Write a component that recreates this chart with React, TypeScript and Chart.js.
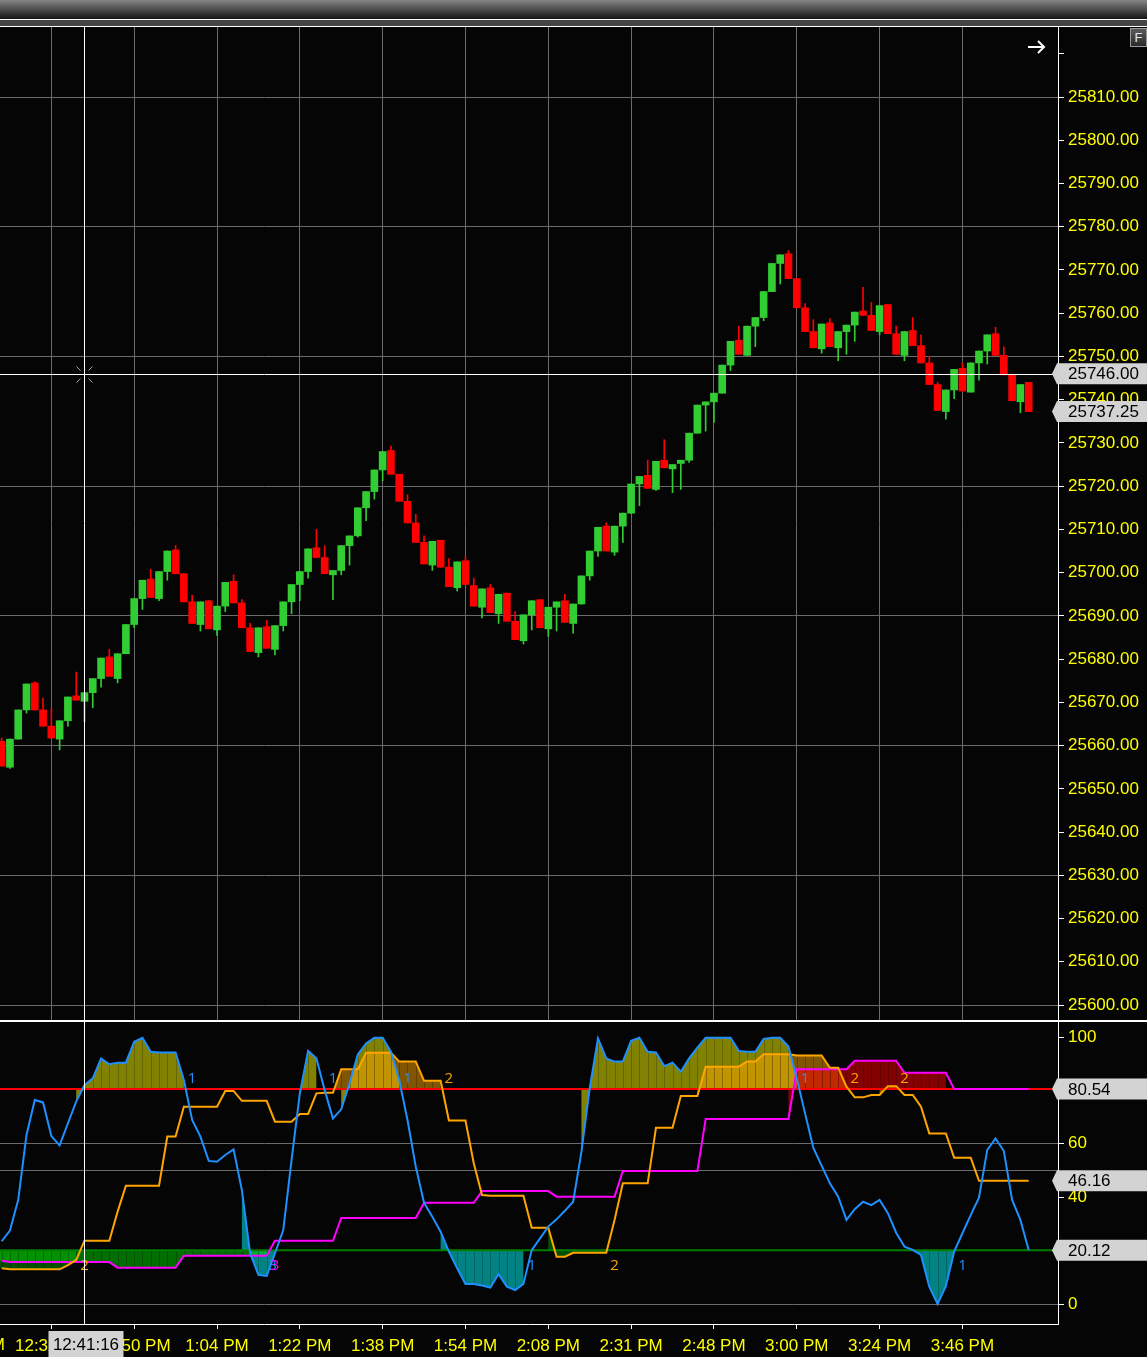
import React, { useEffect, useRef } from 'react';
import { Chart, registerables } from 'chart.js';

Chart.register(...registerables);

const FONT = 'Arial, "Liberation Sans", sans-serif';
const MARK_FONT = '"Open Sans", "DejaVu Sans", sans-serif';

// ---------- Price candles (bar index 0..124) ----------
const OPEN = [
  25661, 25655, 25661.5, 25668.25, 25674.5, 25668.25, 25664.5, 25661.5, 25665.75, 25671.5,
  25670.25, 25672.25, 25675.5, 25680.5, 25675.5, 25681.25, 25688, 25694, 25698.5, 25694,
  25700.25, 25705.25, 25699.75, 25693.25, 25688, 25693.5, 25686.75, 25692.25, 25698, 25693,
  25687.25, 25681.5, 25687.5, 25682.25, 25687.75, 25693.25, 25697.25, 25700.25, 25705.75, 25703.5,
  25699.5, 25700.5, 25706.25, 25708.5, 25715, 25718.75, 25723.75, 25728.25, 25722.75, 25716.5,
  25711.5, 25707, 25701.75, 25707.5, 25701.25, 25696.5, 25702.75, 25697, 25692, 25696.5,
  25690.5, 25695.25, 25688.75, 25684.25, 25690.25, 25693.75, 25687, 25692, 25693.5, 25688.25,
  25692.75, 25699.25, 25705, 25710.75, 25704.75, 25710.75, 25713.75, 25720.5, 25722.5, 25719.25,
  25726, 25724, 25725.25, 25726, 25732.25, 25738.75, 25739.5, 25741.5, 25748, 25753.75,
  25750.25, 25757, 25759, 25765, 25771.5, 25773.75, 25768, 25761.25, 25755.75, 25751.75,
  25757.75, 25752, 25755.75, 25757.25, 25760.5, 25759.5, 25755.75, 25762, 25755.25, 25750.25,
  25756, 25752.5, 25748.5, 25743.5, 25737.25, 25742.25, 25747.25, 25741.75, 25748.5, 25751.25,
  25755.25, 25750.25, 25745.75, 25739.5, 25744,
];
const HIGH = [
  25661.75, 25661.5, 25668.25, 25674.25, 25674.75, 25671, 25668.5, 25665.75, 25671.25, 25677,
  25672.25, 25675.5, 25680.25, 25682.25, 25681.25, 25688, 25694, 25698.25, 25700.75, 25700.25,
  25705, 25706.25, 25699.75, 25694.75, 25693.25, 25693.5, 25692.25, 25697.75, 25699.5, 25693.75,
  25688.25, 25687.25, 25689, 25687.75, 25693.25, 25697.25, 25700.25, 25705.5, 25710, 25706.25,
  25700.5, 25706.25, 25708.5, 25715, 25718.75, 25723.75, 25728, 25729.25, 25722.75, 25718,
  25713.5, 25708.5, 25707.25, 25707.5, 25703.25, 25702.5, 25703.75, 25698.75, 25696.25, 25697.25,
  25695, 25695.25, 25691, 25690.25, 25693.5, 25693.75, 25692, 25693.25, 25695, 25692.75,
  25699.25, 25705, 25710.5, 25711.5, 25710.75, 25713.75, 25720.5, 25722.25, 25726, 25725.75,
  25730.75, 25725, 25726, 25732.25, 25738.75, 25739.5, 25741.5, 25748, 25753.5, 25757,
  25757, 25759, 25765, 25771.5, 25773.5, 25774.5, 25768, 25762.25, 25758.5, 25757.5,
  25758.75, 25755.75, 25757.25, 25760.25, 25766, 25762.5, 25761.75, 25762, 25757, 25755.75,
  25759, 25755, 25750, 25744, 25742.25, 25747, 25748.5, 25748.5, 25751.25, 25755,
  25756.75, 25752.25, 25745.75, 25743.5, 25744,
];
const LOW = [
  25655.25, 25654.75, 25661.5, 25667.5, 25668.25, 25664.5, 25661.75, 25659, 25664.5, 25670.5,
  25665.5, 25668.75, 25673.5, 25676, 25674.5, 25681.25, 25687.25, 25691.5, 25694.25, 25693.5,
  25698.25, 25699.75, 25693.25, 25688.25, 25686.5, 25687, 25685.5, 25691, 25693, 25687.25,
  25681.75, 25680.5, 25682.5, 25681, 25686.5, 25690.5, 25693.5, 25698.75, 25703.5, 25699.75,
  25693.75, 25699.5, 25701.75, 25708.25, 25712, 25717, 25721.25, 25722.75, 25716.5, 25711.5,
  25707, 25702, 25700.5, 25701.25, 25696.75, 25695.75, 25697.25, 25692.25, 25689.5, 25690.75,
  25688.25, 25688.75, 25684.5, 25683.5, 25686.75, 25687.25, 25685.25, 25686.5, 25688.5, 25686,
  25692.75, 25698.25, 25703.75, 25705, 25704, 25707, 25713.75, 25715.5, 25719.5, 25719,
  25724.25, 25718.5, 25719.25, 25725.5, 25732.25, 25732.75, 25734.75, 25741.5, 25746.75, 25750.5,
  25750.25, 25752.25, 25758.25, 25765, 25766.75, 25768, 25761.25, 25755.75, 25752, 25750.75,
  25752.25, 25749, 25750.5, 25753.5, 25759.5, 25756, 25755, 25755.25, 25750.5, 25749,
  25752.5, 25748.5, 25743.5, 25737.5, 25735.5, 25740.25, 25742, 25741.75, 25744.5, 25748.25,
  25750.25, 25745.75, 25739.75, 25737, 25737.25,
];
const CLOSE = [
  25655.25, 25661.5, 25668.25, 25674.25, 25668.25, 25664.5, 25661.75, 25665.75, 25671.25, 25670.5,
  25672.25, 25675.5, 25680.25, 25676, 25681.25, 25688, 25694, 25698.25, 25694.25, 25700.25,
  25705, 25699.75, 25693.25, 25688.25, 25693.25, 25687, 25692.25, 25697.75, 25693, 25687.25,
  25681.75, 25687.25, 25682.5, 25687.75, 25693.25, 25697.25, 25700.25, 25705.5, 25703.5, 25699.75,
  25700.5, 25706.25, 25708.5, 25715, 25718.75, 25723.75, 25728, 25722.75, 25716.5, 25711.5,
  25707, 25702, 25707.25, 25701.25, 25696.75, 25702.5, 25697.25, 25692.25, 25696.25, 25690.75,
  25695, 25688.75, 25684.5, 25690.25, 25693.5, 25687.25, 25692, 25693.25, 25688.5, 25692.75,
  25699.25, 25705, 25710.5, 25705, 25710.75, 25713.75, 25720.5, 25722.25, 25719.5, 25725.75,
  25724.25, 25725, 25726, 25732.25, 25738.75, 25739.5, 25741.5, 25748, 25753.5, 25750.5,
  25757, 25759, 25765, 25771.5, 25773.5, 25768, 25761.25, 25755.75, 25752, 25757.5,
  25752.25, 25755.75, 25757.25, 25760.25, 25759.5, 25756, 25761.75, 25755.25, 25750.5, 25755.75,
  25752.5, 25748.5, 25743.5, 25737.5, 25742.25, 25747, 25742, 25748.5, 25751.25, 25755,
  25750.25, 25745.75, 25739.75, 25743.5, 25737.25,
];

// ---------- Oscillator pane ----------
const BLUE_VALUES = [
  23.5, 27.5, 39, 63.3, 76.4, 75.5, 62.9, 59.4, 67.7, 75.8,
  82, 84.5, 91.9, 89.8, 90.4, 90.4, 98.2, 99.7, 94.5, 94.2,
  94.2, 94.2, 83.9, 68.9, 62.7, 53.6, 53.3, 55.8, 57.9, 42.7,
  19, 10.9, 10.5, 19, 27.7, 53.9, 78.9, 94.8, 92, 80.1,
  69.5, 72.9, 82.7, 93.5, 97.6, 99.7, 99.7, 94.5, 83.9, 68.9,
  51.4, 37.9, 32.7, 27.1, 19.6, 13.4, 7.5, 7.5, 6.9, 6.1,
  11.2, 6.5, 5.2, 7.5, 20.2, 24.6, 29, 31.7, 34.9, 38.3,
  57, 80.8, 99.5, 92, 90.8, 90.8, 98.6, 99.7, 94.5, 94.2,
  89.1, 90.4, 87, 92, 96, 99.7, 99.7, 99.7, 99.7, 94.8,
  94.5, 94.5, 99.3, 99.7, 99.7, 96.4, 84.5, 71.4, 58.5, 51.8,
  45.2, 40.2, 31.5, 35.5, 38.3, 37, 39, 34, 26.7, 21.5,
  20.3, 18.4, 6.5, 0, 6.7, 19.6, 26.5, 33.3, 39.8, 57.7,
  62, 57.3, 39, 31.5, 20.2,
];
const ORANGE_VALUES = [
  13.4, 13, 13, 13, 13, 13, 13, 13, 14.6, 16.5,
  23.7, 23.7, 23.7, 23.7, 34.6, 44.3, 44.3, 44.3, 44.3, 44.3,
  62.7, 62.7, 73.9, 73.9, 73.9, 73.9, 73.9, 79.8, 79.8, 76.1,
  76.1, 76.1, 76.1, 68.3, 68.3, 68.3, 71.2, 71.2, 78.9, 79.1,
  79.1, 87.9, 87.9, 87.9, 94.1, 94.1, 94.1, 94.1, 90.8, 90.8,
  90.8, 83.6, 83.6, 83.6, 68.7, 68.7, 68.7, 52.7, 40.8, 40.5,
  40.5, 40.5, 40.5, 40.5, 28.6, 28.6, 28.6, 17.7, 17.7, 19.2,
  19.2, 19.2, 19.2, 19.2, 31.5, 45.2, 45.2, 45.2, 45.2, 66,
  66, 66, 77.9, 77.9, 77.9, 88.9, 88.9, 88.9, 88.9, 88.9,
  90.8, 90.8, 93.5, 93.5, 93.5, 93.5, 93.1, 93.1, 93.1, 93.1,
  88.5, 88.5, 81.4, 77.4, 77.4, 78.3, 78.3, 81.6, 81.6, 78.3,
  78.3, 73.9, 63.9, 63.9, 63.9, 54.8, 54.8, 54.8, 46.16, 46.16,
  46.16, 46.16, 46.16, 46.16, 46.16,
];
const MAGENTA_VALUES = [
  16.2, 15.7, 15.7, 15.7, 15.7, 15.7, 15.7, 15.7, 15.7, 15.7,
  15.7, 15.7, 15.7, 15.7, 13.6, 13.6, 13.6, 13.6, 13.6, 13.6,
  13.6, 13.6, 18.1, 18.1, 18.1, 18.1, 18.1, 18.1, 18.1, 18.1,
  18.1, 18.1, 18.1, 23.7, 23.7, 23.7, 23.7, 23.7, 23.7, 23.7,
  23.7, 32.2, 32.2, 32.2, 32.2, 32.2, 32.2, 32.2, 32.2, 32.2,
  32.2, 37.9, 37.9, 37.9, 37.9, 37.9, 37.9, 37.9, 42.3, 42.3,
  42.3, 42.3, 42.3, 42.3, 42.3, 42.3, 42.3, 40.2, 40.2, 40.2,
  40.2, 40.2, 40.2, 40.2, 40.2, 49.8, 49.8, 49.8, 49.8, 49.8,
  49.8, 49.8, 49.8, 49.8, 49.8, 69.3, 69.3, 69.3, 69.3, 69.3,
  69.3, 69.3, 69.3, 69.3, 69.3, 69.3, 87.9, 87.9, 87.9, 87.9,
  87.9, 87.9, 87.9, 91.1, 91.1, 91.1, 91.1, 91.1, 91.1, 86.6,
  86.6, 86.6, 86.6, 86.6, 86.6, 80.54, 80.54, 80.54, 80.54, 80.54,
  80.54, 80.54, 80.54, 80.54, 80.54,
];
const UPPER_LEVEL = 80.54;
const LOWER_LEVEL = 20.12;
const ORANGE_LAST = 46.16;

// numbered cross markers
const MARKER_INDEX = [10, 23, 32.7, 33, 40, 49, 54, 64, 74, 97, 103, 109, 116];
const MARKER_VALUE = [14.2, 84.3, 14.2, 14.2, 84.3, 84.3, 84.3, 14.2, 14.2, 84.3, 84.3, 84.3, 14.2];
const MARKER_TEXT = ['2', '1', '3', '3', '1', '1', '2', '1', '2', '1', '2', '2', '1'];
const MARKER_SERIES = ['orange', 'blue', 'blue', 'magenta', 'blue', 'blue', 'orange', 'blue', 'orange', 'blue', 'orange', 'orange', 'blue'];

// ---------- Axes ----------
const PRICE_TICKS = [25600, 25610, 25620, 25630, 25640, 25650, 25660, 25670, 25680, 25690, 25700, 25710,
  25720, 25730, 25740, 25750, 25760, 25770, 25780, 25790, 25800, 25810, 25820];
const PRICE_HIDDEN_LABELS = [25820];
const PRICE_GRID = [25600, 25630, 25660, 25690, 25720, 25750, 25780, 25810];
const OSC_TICKS = [0, 40, 50, 60, 100];
const OSC_LABELLED = [0, 40, 60, 100];
const OSC_GRID = [0, 50, 60];
const TIME_TICKS = [6, 16, 26, 36, 46, 56, 66, 76, 86, 96, 106, 116];
const TIME_LABELS = ['12:32 PM', '12:50 PM', '1:04 PM', '1:22 PM', '1:38 PM', '1:54 PM', '2:08 PM',
  '2:31 PM', '2:48 PM', '3:00 PM', '3:24 PM', '3:46 PM'];
const OFF_LEFT_TICK = -4;
const OFF_LEFT_LABEL = '12:23 PM';

const CROSS_INDEX = 10;
const CROSS_PRICE = 25746;
const CROSS_TIME = '12:41:16';

const X_MIN = -0.2;
const X_MAX = 127.54;
const PRICE_MIN = 25596.54;
const PRICE_MAX = 25826.19;
const OSC_MIN = -7.49;
const OSC_MAX = 105.62;

const C = {
  up: '#32cd32',
  down: '#ff0000',
  blue: '#1e90ff',
  orange: '#ffa500',
  magenta: '#ff00ff',
  grid: '#6a6a6a',
  text: '#ffff00',
  tag: '#d3d3d3',
};
const SERIES_COLOR: Record<string, string> = { blue: C.blue, orange: C.orange, magenta: C.magenta };

function noPad(s: any) {
  s.paddingTop = 0;
  s.paddingBottom = 0;
  s.paddingLeft = 0;
  s.paddingRight = 0;
}

function drawTag(ctx: CanvasRenderingContext2D, y: number, text: string) {
  const h = 21;
  ctx.save();
  ctx.beginPath();
  ctx.moveTo(1052, y);
  ctx.lineTo(1057, y - h / 2);
  ctx.lineTo(1147, y - h / 2);
  ctx.lineTo(1147, y + h / 2);
  ctx.lineTo(1057, y + h / 2);
  ctx.closePath();
  ctx.fillStyle = C.tag;
  ctx.fill();
  ctx.fillStyle = '#000';
  ctx.font = `17px ${FONT}`;
  ctx.textAlign = 'left';
  ctx.textBaseline = 'middle';
  ctx.fillText(text, 1068, y + 1);
  ctx.restore();
}

const mainOverlay = {
  id: 'mainOverlay',
  afterDraw(chart: any) {
    const { ctx, chartArea: a, scales } = chart;
    const xs = scales.x, ys = scales.y;
    const cx = Math.round(xs.getPixelForValue(CROSS_INDEX)) + 0.5;
    const cy = Math.round(ys.getPixelForValue(CROSS_PRICE)) + 0.5;
    ctx.save();
    ctx.strokeStyle = '#ffffff';
    ctx.lineWidth = 1;
    ctx.beginPath();
    ctx.moveTo(cx, a.top);
    ctx.lineTo(cx, a.bottom);
    ctx.moveTo(a.left, cy);
    ctx.lineTo(a.right, cy);
    ctx.stroke();
    // cursor glyph
    ctx.strokeStyle = '#a0a0a0';
    ctx.beginPath();
    ctx.moveTo(cx - 8, cy - 8); ctx.lineTo(cx - 4, cy - 4);
    ctx.moveTo(cx + 8, cy - 8); ctx.lineTo(cx + 4, cy - 4);
    ctx.moveTo(cx - 8, cy + 8); ctx.lineTo(cx - 4, cy + 4);
    ctx.moveTo(cx + 8, cy + 8); ctx.lineTo(cx + 4, cy + 4);
    ctx.stroke();
    // arrow icon
    ctx.strokeStyle = '#ffffff';
    ctx.lineWidth = 2;
    ctx.beginPath();
    ctx.moveTo(1028, 20); ctx.lineTo(1044, 20);
    ctx.moveTo(1038, 14); ctx.lineTo(1044, 20); ctx.lineTo(1038, 26);
    ctx.stroke();
    ctx.restore();
    drawTag(ctx, ys.getPixelForValue(CROSS_PRICE), CROSS_PRICE.toFixed(2));
    const last = CLOSE[CLOSE.length - 1];
    drawTag(ctx, ys.getPixelForValue(last), last.toFixed(2));
  },
};

const FILL_SPECS = [
  { values: BLUE_VALUES, above: 'rgba(255,255,0,0.5)', below: 'rgba(0,255,255,0.5)' },
  { values: ORANGE_VALUES, above: 'rgba(255,165,0,0.5)', below: 'rgba(0,255,0,0.3)' },
  { values: MAGENTA_VALUES, above: 'rgba(255,0,0,0.5)', below: 'rgba(0,215,0,0.5)' },
];

const oscOverlay = {
  id: 'oscOverlay',
  beforeDatasetsDraw(chart: any) {
    const { ctx, chartArea: a, scales } = chart;
    const xs = scales.x, ys = scales.y;
    ctx.save();
    ctx.beginPath();
    ctx.rect(a.left, a.top, a.width, a.height);
    ctx.clip();
    for (const spec of FILL_SPECS) {
      for (const side of ['above', 'below']) {
        const level = side === 'above' ? UPPER_LEVEL : LOWER_LEVEL;
        const ly = ys.getPixelForValue(level);
        const stripes: number[][] = [];
        ctx.beginPath();
        spec.values.forEach((v, i) => {
          const beyond = side === 'above' ? v > level : v < level;
          if (!beyond) return;
          const pv = i > 0 ? spec.values[i - 1] : v;
          const x1 = xs.getPixelForValue(i - 1);
          const x2 = xs.getPixelForValue(i);
          const y1 = ys.getPixelForValue(pv);
          const y2 = ys.getPixelForValue(v);
          ctx.moveTo(x1, ly);
          ctx.lineTo(x1, y1);
          ctx.lineTo(x2, y2);
          ctx.lineTo(x2, ly);
          ctx.closePath();
          stripes.push([x2, y2]);
        });
        ctx.fillStyle = side === 'above' ? spec.above : spec.below;
        ctx.fill();
        ctx.strokeStyle = 'rgba(0,0,0,0.22)';
        ctx.lineWidth = 1;
        ctx.beginPath();
        stripes.forEach(([sx, sy]) => {
          const px = Math.round(sx) + 0.5;
          ctx.moveTo(px, ly);
          ctx.lineTo(px, sy);
        });
        ctx.stroke();
      }
    }
    ctx.restore();
  },
  afterDatasetsDraw(chart: any) {
    const { ctx, chartArea: a, scales } = chart;
    const xs = scales.x, ys = scales.y;
    ctx.save();
    ctx.font = `15px ${MARK_FONT}`;
    ctx.textAlign = 'center';
    ctx.textBaseline = 'middle';
    MARKER_INDEX.forEach((k, i) => {
      ctx.fillStyle = SERIES_COLOR[MARKER_SERIES[i]];
      ctx.fillText(MARKER_TEXT[i], xs.getPixelForValue(k), ys.getPixelForValue(MARKER_VALUE[i]));
    });
    const cx = Math.round(xs.getPixelForValue(CROSS_INDEX)) + 0.5;
    ctx.strokeStyle = '#ffffff';
    ctx.lineWidth = 1;
    ctx.beginPath();
    ctx.moveTo(cx, a.top);
    ctx.lineTo(cx, a.bottom);
    ctx.stroke();
    ctx.restore();
  },
  afterDraw(chart: any) {
    const { ctx, chartArea: a, scales } = chart;
    const xs = scales.x, ys = scales.y;
    drawTag(ctx, ys.getPixelForValue(UPPER_LEVEL), UPPER_LEVEL.toFixed(2));
    drawTag(ctx, ys.getPixelForValue(ORANGE_LAST), ORANGE_LAST.toFixed(2));
    drawTag(ctx, ys.getPixelForValue(LOWER_LEVEL), LOWER_LEVEL.toFixed(2));
    ctx.save();
    ctx.font = `17px ${FONT}`;
    ctx.textAlign = 'center';
    ctx.textBaseline = 'middle';
    const labelY = a.bottom + 21;
    ctx.fillStyle = C.text;
    ctx.fillText(OFF_LEFT_LABEL, xs.getPixelForValue(OFF_LEFT_TICK), labelY);
    const cx = xs.getPixelForValue(CROSS_INDEX);
    ctx.fillStyle = C.tag;
    ctx.fillRect(cx - 36, a.bottom + 7, 75, 26);
    ctx.fillStyle = '#000';
    ctx.fillText(CROSS_TIME, cx + 1.5, labelY);
    ctx.restore();
  },
};

function mainConfig(): any {
  const colors = OPEN.map((o, i) => (CLOSE[i] >= o ? C.up : C.down));
  return {
    type: 'bar',
    data: {
      datasets: [
        {
          label: 'body',
          data: OPEN.map((o, i) => ({ x: i, y: [o, CLOSE[i]] })),
          backgroundColor: colors,
          barThickness: 7,
          grouped: false,
          minBarLength: 1,
          borderWidth: 0,
        },
        {
          label: 'wick',
          data: LOW.map((l, i) => ({ x: i, y: [l, HIGH[i]] })),
          backgroundColor: colors,
          barThickness: 1,
          grouped: false,
          borderWidth: 0,
        },
      ],
    },
    options: {
      responsive: false,
      animation: false,
      events: [],
      layout: { padding: 0, autoPadding: false },
      plugins: { legend: { display: false }, tooltip: { enabled: false } },
      scales: {
        x: {
          type: 'linear',
          min: X_MIN,
          max: X_MAX,
          offset: false,
          afterBuildTicks: (s: any) => { s.ticks = TIME_TICKS.map((v) => ({ value: v })); },
          afterFit: (s: any) => { s.height = 0; noPad(s); },
          ticks: { display: false },
          grid: { color: C.grid, drawTicks: false, lineWidth: 1, offset: false },
          border: { display: false },
        },
        y: {
          type: 'linear',
          position: 'right',
          min: PRICE_MIN,
          max: PRICE_MAX,
          afterBuildTicks: (s: any) => { s.ticks = PRICE_TICKS.map((v) => ({ value: v })); },
          afterFit: (s: any) => { s.width = 89; noPad(s); },
          ticks: {
            autoSkip: false,
            color: C.text,
            font: { family: FONT, size: 17 },
            padding: 4,
            callback: (v: any) => (PRICE_HIDDEN_LABELS.includes(Number(v)) ? '' : Number(v).toFixed(2)),
          },
          grid: {
            color: (ctx: any) => (ctx.tick && PRICE_GRID.includes(ctx.tick.value) ? C.grid : 'rgba(0,0,0,0)'),
            tickColor: '#ffffff',
            tickLength: 6,
            lineWidth: 1,
            offset: false,
          },
          border: { color: '#ffffff', width: 1 },
        },
      },
    },
    plugins: [mainOverlay],
  };
}

function oscConfig(): any {
  const line = (vals: number[], color: string) => ({
    data: vals.map((v, i) => ({ x: i, y: v })),
    borderColor: color,
    borderWidth: 2,
    pointRadius: 0,
    tension: 0,
    fill: false,
  });
  return {
    type: 'line',
    data: {
      datasets: [
        line(BLUE_VALUES, C.blue),
        line(ORANGE_VALUES, C.orange),
        line(MAGENTA_VALUES, C.magenta),
        {
          data: [{ x: X_MIN, y: UPPER_LEVEL }, { x: X_MAX, y: UPPER_LEVEL }],
          borderColor: '#ff0000', borderWidth: 2, pointRadius: 0, fill: false,
        },
        {
          data: [{ x: X_MIN, y: LOWER_LEVEL }, { x: X_MAX, y: LOWER_LEVEL }],
          borderColor: '#008000', borderWidth: 2, pointRadius: 0, fill: false,
        },
      ],
    },
    options: {
      responsive: false,
      animation: false,
      events: [],
      layout: { padding: 0, autoPadding: false },
      plugins: { legend: { display: false }, tooltip: { enabled: false } },
      scales: {
        x: {
          type: 'linear',
          min: X_MIN,
          max: X_MAX,
          offset: false,
          afterBuildTicks: (s: any) => { s.ticks = TIME_TICKS.map((v) => ({ value: v })); },
          afterFit: (s: any) => { s.height = 33; noPad(s); },
          ticks: {
            autoSkip: false,
            maxRotation: 0,
            color: C.text,
            font: { family: FONT, size: 17 },
            padding: 7,
            callback: (v: any) => {
              const i = TIME_TICKS.indexOf(Number(v));
              return i >= 0 ? TIME_LABELS[i] : '';
            },
          },
          grid: { drawOnChartArea: false, tickColor: '#ffffff', tickLength: 5, offset: false },
          border: { color: '#ffffff', width: 1 },
        },
        y: {
          type: 'linear',
          position: 'right',
          min: OSC_MIN,
          max: OSC_MAX,
          afterBuildTicks: (s: any) => { s.ticks = OSC_TICKS.map((v) => ({ value: v })); },
          afterFit: (s: any) => { s.width = 89; noPad(s); },
          ticks: {
            autoSkip: false,
            color: C.text,
            font: { family: FONT, size: 17 },
            padding: 4,
            callback: (v: any) => (OSC_LABELLED.includes(Number(v)) ? String(v) : ''),
          },
          grid: {
            color: (ctx: any) => (ctx.tick && OSC_GRID.includes(ctx.tick.value) ? C.grid : 'rgba(0,0,0,0)'),
            tickColor: (ctx: any) => (ctx.tick && OSC_LABELLED.includes(ctx.tick.value) ? '#ffffff' : 'rgba(0,0,0,0)'),
            tickLength: 6,
            lineWidth: 1,
            offset: false,
          },
          border: { color: '#ffffff', width: 1 },
        },
      },
    },
    plugins: [oscOverlay],
  };
}

export default function App() {
  const mainRef = useRef<HTMLCanvasElement>(null);
  const oscRef = useRef<HTMLCanvasElement>(null);

  useEffect(() => {
    const main = new Chart(mainRef.current as HTMLCanvasElement, mainConfig());
    const osc = new Chart(oscRef.current as HTMLCanvasElement, oscConfig());
    return () => {
      main.destroy();
      osc.destroy();
    };
  }, []);

  const abs = (top: number, height: number, background: string): React.CSSProperties => ({
    position: 'absolute', left: 0, top, width: 1147, height, background,
  });

  return (
    <div style={{ position: 'absolute', left: 0, top: 0, width: 1147, height: 1357, background: '#050505', overflow: 'hidden' }}>
      <div style={abs(0, 19, 'linear-gradient(to bottom, #858585, #141414)')} />
      <div style={abs(19, 1, '#ffffff')} />
      <div style={abs(20, 6, '#444444')} />
      <div style={abs(26, 1, '#ffffff')} />
      <canvas ref={mainRef} width={1147} height={993} style={{ position: 'absolute', left: 0, top: 27, display: 'block' }} />
      <div style={abs(1020, 2, '#ffffff')} />
      <canvas ref={oscRef} width={1147} height={335} style={{ position: 'absolute', left: 0, top: 1022, display: 'block' }} />
      <div
        style={{
          position: 'absolute', left: 1130, top: 28, width: 15, height: 17, border: '1px solid #9a9a9a',
          background: 'linear-gradient(#5a5a5a, #2a2a2a)', color: '#dde6ff', font: `13px ${FONT}`,
          lineHeight: '17px', textAlign: 'center',
        }}
      >
        F
      </div>
    </div>
  );
}
